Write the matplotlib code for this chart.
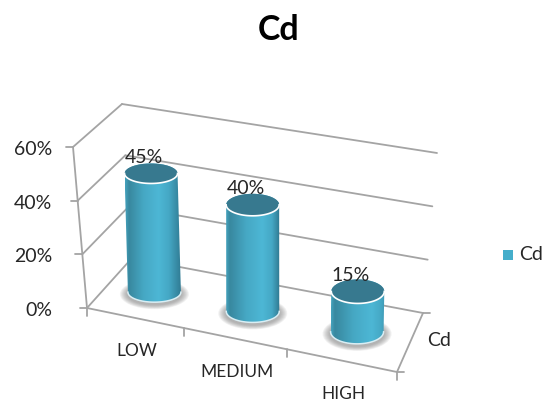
import numpy as np
import matplotlib
matplotlib.use("Agg")
import matplotlib.pyplot as plt
from matplotlib.colors import LinearSegmentedColormap
from matplotlib.patches import Ellipse, PathPatch, Rectangle
from matplotlib.path import Path

# Chart data
categories = ["LOW", "MEDIUM", "HIGH"]
values = [45, 40, 15]
value_labels = ["45%", "40%", "15%"]
axis_ticks = [0, 20, 40, 60]
series_name = "Cd"

# Corners of the 3D box in canvas pixels: (right?, back?, top?)
CORNERS = {
    (0, 0, 0): (87, 308), (1, 0, 0): (397, 372),
    (0, 1, 0): (132, 258), (1, 1, 0): (423, 313),
    (0, 0, 1): (73, 147), (1, 0, 1): (407, 207),
    (0, 1, 1): (122, 104), (1, 1, 1): (437, 153),
}
AXIS_MAX = 60
GRID = "#a4a4a4"
TEXT = "#262626"
FONT = "Lato"


def project(u, d, value):
    """Map category fraction, depth fraction and axis value to canvas pixels."""
    u = u + 0.09 * u * (u - 1)      # foreshortening along the category axis
    z = value / AXIS_MAX
    p = np.zeros(2)
    for (a, b, c), xy in CORNERS.items():
        w = (u if a else 1 - u) * (d if b else 1 - d) * (z if c else 1 - z)
        p += w * np.array(xy)
    return p


def line(ax, p, q, lw=1.3, color=GRID, zorder=1):
    ax.plot([p[0], q[0]], [p[1], q[1]], color=color, lw=lw, zorder=zorder,
            solid_capstyle="round")


def half_ellipse(cx, cy, rx, ry, start, stop, n=40):
    t = np.linspace(start, stop, n)
    return np.column_stack([cx + rx * np.cos(t), cy + ry * np.sin(t)])


def cylinder(ax, u, value, label):
    base = project(u, 0.5, 0) + np.array([3.5 * u - 2, 0])
    top = project(u, 0.5, value)
    top[0] = base[0] + 0.7 * (top[0] - base[0])  # cylinders stand nearly upright
    rx = 26.5
    ry = 9.5 + 3.0 * u

    # soft shadow on the floor
    for k in np.linspace(1, 0, 8):
        ax.add_patch(Ellipse((base[0], base[1] + 2), 2 * (rx + 1 + 7 * k),
                             2 * (ry + 1 + 4 * k), fc="#808080", ec="none",
                             alpha=0.10, zorder=3))

    # body outline: down the left side, round the base, up the right side
    verts = np.vstack([
        [[top[0] - rx, top[1]]],
        half_ellipse(base[0], base[1], rx, ry, np.pi, 0),
        half_ellipse(top[0], top[1], rx, ry, 0, -np.pi),
    ])
    body = Path(np.vstack([verts, verts[:1]]), closed=True)

    # horizontal shading across the curved side
    peak = 0.55 + 0.25 * u
    cmap = LinearSegmentedColormap.from_list("side", [
        (0.0, "#45a2bd"), (0.07, "#38889f"), (peak * 0.55, "#46a8c4"),
        (peak, "#4db7d5"), (min(peak + 0.18, 0.93), "#45a8c5"),
        (1.0, "#2f7890" if u < 0.7 else "#3f9ab5"),
    ])
    left = min(base[0], top[0]) - rx
    right = max(base[0], top[0]) + rx
    im = ax.imshow(np.linspace(0, 1, 128)[None, :], cmap=cmap, aspect="auto",
                   extent=(left, right, base[1] + ry, top[1] - ry), zorder=4,
                   interpolation="bilinear")
    im.set_clip_path(PathPatch(body, transform=ax.transData))

    # pale rim along the base and the front of the cap
    rim = half_ellipse(base[0], base[1], rx, ry, np.pi, 0)
    ax.plot(rim[:, 0], rim[:, 1], color="#d9eef4", lw=1.1, zorder=5)
    ax.add_patch(Ellipse(top, 2 * rx, 2 * ry, fc="#37798f", ec="none", zorder=5))
    rim = half_ellipse(top[0], top[1], rx, ry, np.pi, 0)
    ax.plot(rim[:, 0], rim[:, 1], color="white", lw=1.2, zorder=6)

    ax.text(top[0] - 7, top[1] - 16, label, ha="center", va="center",
            fontsize=14, color=TEXT, family=FONT, zorder=7)


fig = plt.figure(figsize=(5.45, 4.01), dpi=100)
ax = fig.add_axes([0, 0, 1, 1])

# walls: gridlines on the side and back planes
for v in axis_ticks:
    line(ax, project(0, 0, v), project(0, 1, v))
    line(ax, project(0, 1, v), project(1, 1, v))
    p = project(0, 0, v)
    line(ax, p, p + np.array([-7, 0]))
    ax.text(52, p[1] + 2.5, f"{v}%", ha="right", va="center",
            fontsize=14, color=TEXT, family=FONT)

# outer edges of the box
line(ax, project(0, 0, 0), project(0, 0, AXIS_MAX))
line(ax, project(0, 0, 0), project(1, 0, 0))
line(ax, project(1, 0, 0), project(1, 1, 0))
for d in (0, 1):
    p = project(1, d, 0)
    line(ax, p, p + np.array([7, 0]))

# category ticks along the front edge
n = len(categories)
for i in range(n + 1):
    p = project(i / n, 0, 0)
    line(ax, p, p + np.array([0, 8]))

for i, (name, val, lab) in enumerate(zip(categories, values, value_labels)):
    cylinder(ax, (i + 0.5) / n, val, lab)
    p = project((i + 0.5) / n, 0, 0)
    ax.text(p[0] + 2, p[1] + 33, name, ha="center", va="center", fontsize=12.5,
            color=TEXT, family=FONT)

ax.text(279, 30, series_name, ha="center", va="center", fontsize=24.5,
        fontweight="bold", color="black", family=FONT)
ax.text(439, 341, series_name, ha="center", va="center", fontsize=14,
        color=TEXT, family=FONT)

# legend
ax.add_patch(Rectangle((503, 250), 10, 10, fc="#45aecb", ec="none"))
ax.text(519, 255, series_name, ha="left", va="center", fontsize=14,
        color=TEXT, family=FONT)

ax.set_xlim(0, 545)
ax.set_ylim(401, 0)
ax.axis("off")
fig.savefig("out.png", dpi=100)
